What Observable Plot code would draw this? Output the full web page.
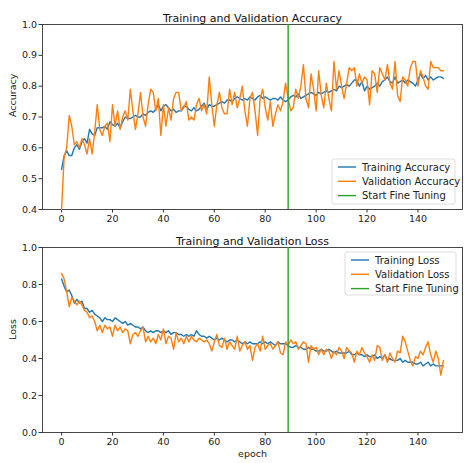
<!DOCTYPE html>
<html>
<head>
<meta charset="utf-8">
<script src="https://cdn.jsdelivr.net/npm/d3@7"></script>
<script src="https://cdn.jsdelivr.net/npm/@observablehq/plot@0.6"></script>
<style>
  body { margin: 0; background: #fff; }
  #chart { width: 464px; }
  #chart svg { display: block; }
</style>
</head>
<body>
<div id="chart"></div>
<script>
// Training history: epochs 0..150, fine tuning starts after epoch 89
const trainAcc = [
  0.53, 0.575, 0.59, 0.575, 0.575, 0.60, 0.61, 0.595, 0.62, 0.63,
  0.615, 0.66, 0.645, 0.64, 0.665, 0.665, 0.665, 0.67, 0.66, 0.685,
  0.675, 0.67, 0.68, 0.665, 0.685, 0.70, 0.695, 0.695, 0.70, 0.705,
  0.70, 0.70, 0.71, 0.705, 0.715, 0.72, 0.715, 0.725, 0.74, 0.72,
  0.735, 0.74, 0.73, 0.72, 0.725, 0.715, 0.72, 0.72, 0.735, 0.735,
  0.725, 0.72, 0.73, 0.72, 0.725, 0.735, 0.745, 0.725, 0.74, 0.735,
  0.735, 0.74, 0.745, 0.75, 0.745, 0.755, 0.755, 0.75, 0.76, 0.765,
  0.76, 0.755, 0.76, 0.755, 0.765, 0.76, 0.755, 0.765, 0.77, 0.76,
  0.765, 0.76, 0.755, 0.76, 0.76, 0.755, 0.765, 0.755, 0.75, 0.755,
  0.765, 0.77, 0.765, 0.775, 0.76, 0.765, 0.77, 0.775, 0.78, 0.775,
  0.77, 0.78, 0.775, 0.78, 0.785, 0.78, 0.785, 0.79, 0.785, 0.80,
  0.795, 0.80, 0.805, 0.80, 0.81, 0.82, 0.82, 0.80, 0.815, 0.785,
  0.80, 0.79, 0.795, 0.80, 0.81, 0.80, 0.815, 0.82, 0.83, 0.815,
  0.81, 0.83, 0.81, 0.815, 0.82, 0.81, 0.82, 0.815, 0.81, 0.80,
  0.82, 0.84, 0.825, 0.835, 0.82, 0.83, 0.82, 0.825, 0.83, 0.83,
  0.825
];
const valAcc = [
  0.40, 0.57, 0.60, 0.705, 0.67, 0.61, 0.62, 0.60, 0.63, 0.61,
  0.58, 0.63, 0.58, 0.65, 0.74, 0.66, 0.64, 0.67, 0.68, 0.62,
  0.74, 0.67, 0.72, 0.66, 0.70, 0.72, 0.69, 0.79, 0.72, 0.66,
  0.71, 0.78, 0.70, 0.67, 0.74, 0.79, 0.78, 0.72, 0.76, 0.64,
  0.74, 0.67, 0.73, 0.69, 0.76, 0.78, 0.78, 0.72, 0.73, 0.75,
  0.69, 0.70, 0.69, 0.74, 0.76, 0.72, 0.74, 0.71, 0.83, 0.74,
  0.67, 0.74, 0.78, 0.73, 0.71, 0.71, 0.79, 0.74, 0.78, 0.73,
  0.76, 0.80, 0.72, 0.67, 0.76, 0.78, 0.72, 0.64, 0.76, 0.79,
  0.73, 0.69, 0.75, 0.67, 0.71, 0.74, 0.72, 0.75, 0.81, 0.76,
  0.72, 0.73, 0.79, 0.76, 0.80, 0.87, 0.76, 0.73, 0.84, 0.79,
  0.72, 0.85, 0.77, 0.73, 0.81, 0.76, 0.72, 0.88, 0.79, 0.85,
  0.80, 0.76, 0.81, 0.86, 0.85, 0.86, 0.80, 0.84, 0.81, 0.83,
  0.82, 0.74, 0.85, 0.84, 0.78, 0.86, 0.84, 0.82, 0.87, 0.81,
  0.79, 0.88, 0.77, 0.75, 0.83, 0.82, 0.80, 0.86, 0.88, 0.88,
  0.80, 0.85, 0.83, 0.80, 0.79, 0.88, 0.86, 0.86, 0.86, 0.85,
  0.85
];
const trainLoss = [
  0.83, 0.79, 0.76, 0.77, 0.74, 0.70, 0.72, 0.70, 0.71, 0.67,
  0.67, 0.65, 0.66, 0.64, 0.63, 0.62, 0.60, 0.62, 0.61, 0.61,
  0.60, 0.62, 0.61, 0.60, 0.59, 0.60, 0.58, 0.59, 0.58, 0.57,
  0.57, 0.56, 0.57, 0.55, 0.54, 0.55, 0.54, 0.55, 0.55, 0.54,
  0.55, 0.54, 0.55, 0.53, 0.54, 0.54, 0.53, 0.53, 0.52, 0.53,
  0.52, 0.53, 0.52, 0.55, 0.53, 0.52, 0.52, 0.51, 0.52, 0.51,
  0.50, 0.51, 0.50, 0.51, 0.50, 0.49, 0.50, 0.50, 0.49, 0.50,
  0.49, 0.48, 0.49, 0.48, 0.49, 0.48, 0.48, 0.48, 0.49, 0.48,
  0.49, 0.48, 0.49, 0.48, 0.47, 0.49, 0.48, 0.48, 0.48, 0.47,
  0.46, 0.46, 0.47, 0.46, 0.46, 0.45, 0.45, 0.46, 0.45, 0.45,
  0.44, 0.44, 0.45, 0.44, 0.44, 0.45, 0.44, 0.43, 0.44, 0.43,
  0.43, 0.43, 0.43, 0.44, 0.42, 0.42, 0.43, 0.42, 0.42, 0.41,
  0.42, 0.41, 0.41, 0.42, 0.40, 0.41, 0.40, 0.42, 0.39, 0.40,
  0.39, 0.39, 0.39, 0.40, 0.38, 0.39, 0.38, 0.38, 0.38, 0.37,
  0.37, 0.38, 0.36, 0.37, 0.38, 0.36, 0.37, 0.36, 0.36, 0.36,
  0.36
];
const valLoss = [
  0.86, 0.83, 0.76, 0.68, 0.73, 0.71, 0.69, 0.71, 0.69, 0.66,
  0.65, 0.62, 0.63, 0.60, 0.55, 0.58, 0.54, 0.58, 0.56, 0.57,
  0.52, 0.58, 0.55, 0.57, 0.54, 0.56, 0.55, 0.48, 0.53, 0.54,
  0.52, 0.55, 0.57, 0.49, 0.52, 0.49, 0.51, 0.48, 0.53, 0.50,
  0.56, 0.48, 0.52, 0.51, 0.45, 0.54, 0.49, 0.51, 0.48, 0.52,
  0.49, 0.52, 0.50, 0.49, 0.51, 0.50, 0.49, 0.50, 0.48, 0.44,
  0.49, 0.53, 0.47, 0.46, 0.51, 0.45, 0.49, 0.47, 0.45, 0.52,
  0.44, 0.47, 0.49, 0.45, 0.47, 0.39, 0.46, 0.48, 0.44, 0.52,
  0.45, 0.47, 0.48, 0.45, 0.47, 0.49, 0.43, 0.42, 0.49, 0.47,
  0.50, 0.48, 0.49, 0.45, 0.47, 0.49, 0.48, 0.38, 0.47, 0.45,
  0.46, 0.42, 0.45, 0.42, 0.45, 0.44, 0.40, 0.44, 0.42, 0.46,
  0.44, 0.40, 0.46, 0.44, 0.43, 0.38, 0.44, 0.42, 0.46, 0.43,
  0.41, 0.38, 0.42, 0.39, 0.47, 0.46, 0.39, 0.42, 0.38, 0.43,
  0.40, 0.38, 0.44, 0.43, 0.52, 0.49, 0.44, 0.39, 0.36, 0.41,
  0.40, 0.44, 0.42, 0.46, 0.49, 0.42, 0.38, 0.44, 0.40, 0.31,
  0.39
];

const fineTuneStart = 89;
const epochTicks = [0, 20, 40, 60, 80, 100, 120, 140];
const accTicks = [0.4, 0.5, 0.6, 0.7, 0.8, 0.9, 1.0];
const lossTicks = [0.0, 0.2, 0.4, 0.6, 0.8, 1.0];

const BLUE = "#1f77b4", ORANGE = "#ff7f0e", GREEN = "#2ca02c";
const FONT = "DejaVu Sans";

// Boxed legend in the corner of a panel
function addLegend(svg, {x, y, w, h, rows}) {
  const g = d3.select(svg).append("g")
    .attr("font-family", FONT).attr("font-size", 10).attr("text-anchor", "start");
  g.append("rect")
    .attr("x", x).attr("y", y).attr("width", w).attr("height", h)
    .attr("rx", 2).attr("fill", "#fff").attr("fill-opacity", 0.8)
    .attr("stroke", "#d4d4d4").attr("stroke-width", 0.8);
  rows.forEach((r, i) => {
    const cy = y + 8 + i * 14.3;
    g.append("line")
      .attr("x1", x + 6).attr("x2", x + 24).attr("y1", cy).attr("y2", cy)
      .attr("stroke", r.color).attr("stroke-width", 1.4);
    g.append("text")
      .attr("x", x + 30).attr("y", cy).attr("dy", "0.35em")
      .attr("text-anchor", "start")
      .attr("fill", "#222").text(r.label);
  });
}

function panel({train, val, yDomain, yTicks, title, yLabel, xLabel, height, marginTop, marginBottom}) {
  const idx = d3.range(train.length);
  const marks = [
    Plot.frame({stroke: "#333", strokeWidth: 0.9}),
    Plot.axisX({ticks: epochTicks, tickSize: 3.5, tickPadding: 2, label: null, stroke: "#333"}),
    Plot.axisY({ticks: yTicks, tickSize: 3.5, tickPadding: 2, tickFormat: d3.format(".1f"), label: null, stroke: "#333"}),
    Plot.line(idx, {x: i => i, y: i => train[i], stroke: BLUE, strokeWidth: 1.4}),
    Plot.line(idx, {x: i => i, y: i => val[i], stroke: ORANGE, strokeWidth: 1.4}),
    Plot.ruleX([fineTuneStart], {stroke: GREEN, strokeWidth: 1.4}),
    Plot.text([title], {frameAnchor: "top", dy: -10, fontSize: 11, fill: "#111"}),
    Plot.text([yLabel], {frameAnchor: "left", dx: -30, rotate: -90, fontSize: 9.5, fill: "#222"})
  ];
  if (xLabel) marks.push(Plot.text([xLabel], {frameAnchor: "bottom", dy: 24, fontSize: 9.5, fill: "#222"}));
  return Plot.plot({
    width: 464,
    height,
    marginTop,
    marginBottom,
    marginLeft: 42,
    marginRight: 2,
    style: {fontFamily: FONT, fontSize: "9.5px", color: "#222", background: "#fff"},
    x: {domain: [-7.5, 157.5]},
    y: {domain: yDomain},
    marks
  });
}

const accPlot = panel({
  train: trainAcc, val: valAcc, yDomain: [0.4, 1.0], yTicks: accTicks,
  title: "Training and Validation Accuracy", yLabel: "Accuracy",
  height: 232, marginTop: 24, marginBottom: 23
});
addLegend(accPlot, {x: 332, y: 159, w: 123, h: 45, rows: [
  {label: "Training Accuracy", color: BLUE},
  {label: "Validation Accuracy", color: ORANGE},
  {label: "Start Fine Tuning", color: GREEN}
]});

const lossPlot = panel({
  train: trainLoss, val: valLoss, yDomain: [0, 1.0], yTicks: lossTicks,
  title: "Training and Validation Loss", yLabel: "Loss", xLabel: "epoch",
  height: 231, marginTop: 15, marginBottom: 31
});
addLegend(lossPlot, {x: 345, y: 20, w: 111, h: 43, rows: [
  {label: "Training Loss", color: BLUE},
  {label: "Validation Loss", color: ORANGE},
  {label: "Start Fine Tuning", color: GREEN}
]});

const chart = document.getElementById("chart");
chart.appendChild(accPlot);
chart.appendChild(lossPlot);
</script>
</body>
</html>
